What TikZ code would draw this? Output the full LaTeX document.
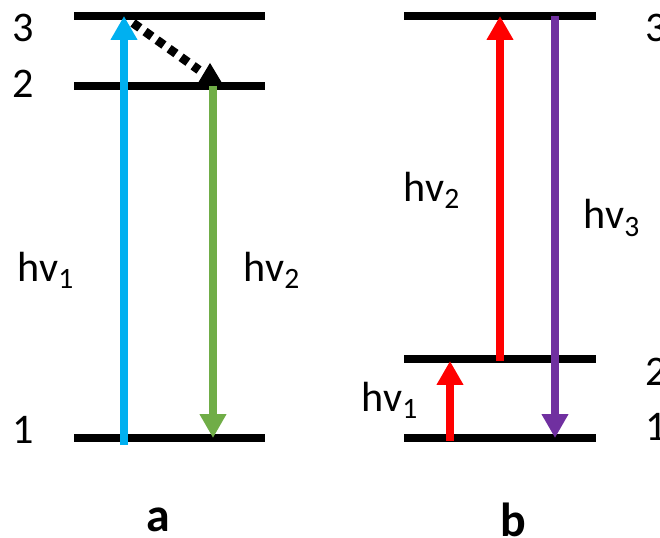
\documentclass[tikz,border=0pt]{standalone}
\usepackage{fontspec}
\setmainfont{Carlito}
\usetikzlibrary{arrows.meta}

\begin{document}
\begin{tikzpicture}[
    x=0.025cm, y=-0.025cm,
    every node/.style={font=\fontsize{30}{36}\selectfont,inner sep=0pt},
    level/.style={line width=5pt,black},
    photon/.style={line width=5.7pt,-{Triangle[length=17pt,width=18pt]}},
    relax/.style={line width=6.3pt,dash pattern=on 6pt off 4.5pt,black},
    panel/.style={font=\fontsize{34}{40}\selectfont\bfseries}
]
\useasboundingbox (0,0) rectangle (660,538);

% panel a: energy levels
\coordinate (a3l) at (74,16);   \coordinate (a3r) at (265,16);
\coordinate (a2l) at (74,86);   \coordinate (a2r) at (265,86);
\coordinate (a1l) at (74,438);  \coordinate (a1r) at (265,438);
\draw[level] (a3l) -- (a3r);
\draw[level] (a2l) -- (a2r);
\draw[level] (a1l) -- (a1r);
\node (la3) at (23,28) {3};
\node (la2) at (23,84) {2};
\node (la1) at (23,430) {1};

% panel a: transitions
\coordinate (absA0) at (124,445);
\coordinate (absA1) at (124,16);
\coordinate (emiA0) at (213,86);
\coordinate (emiA1) at (213,438);
\draw[photon,color={rgb,255:red,0;green,176;blue,240}] (absA0) -- (absA1);
\draw[photon,color={rgb,255:red,112;green,173;blue,71}] (emiA0) -- (emiA1);
\coordinate (nrA0) at (133,23);
\coordinate (nrA1) at (199,70);
\draw[relax] (nrA0) -- (nrA1);
\fill (210,63) -- (222,83) -- (198,83) -- cycle;
\node (hvA1) at (46,270) {hv\textsubscript{1}};
\node (hvA2) at (272,270) {hv\textsubscript{2}};

% panel b: energy levels
\coordinate (b3l) at (404,16);   \coordinate (b3r) at (596,16);
\coordinate (b2l) at (404,359);  \coordinate (b2r) at (596,359);
\coordinate (b1l) at (404,438);  \coordinate (b1r) at (596,438);
\draw[level] (b3l) -- (b3r);
\draw[level] (b2l) -- (b2r);
\draw[level] (b1l) -- (b1r);
\node[anchor=west] (lb3) at (645,28) {3};
\node[anchor=west] (lb2) at (645,372) {2};
\node[anchor=west] (lb1) at (645,427) {1};

% panel b: transitions
\coordinate (absB0) at (450,441);
\coordinate (absB1) at (450,361);
\coordinate (upB0) at (500,361);
\coordinate (upB1) at (500,16);
\coordinate (emiB0) at (555,16);
\coordinate (emiB1) at (555,438);
\draw[photon,red] (absB0) -- (absB1);
\draw[photon,red] (upB0) -- (upB1);
\draw[photon,color={rgb,255:red,112;green,48;blue,160}] (emiB0) -- (emiB1);
\node (hvB1) at (390,400) {hv\textsubscript{1}};
\node (hvB2) at (432,190) {hv\textsubscript{2}};
\node (hvB3) at (612,218) {hv\textsubscript{3}};

% panel labels
\node[panel] (pa) at (158,520) {a};
\node[panel] (pb) at (513,520) {b};
\end{tikzpicture}
\end{document}
